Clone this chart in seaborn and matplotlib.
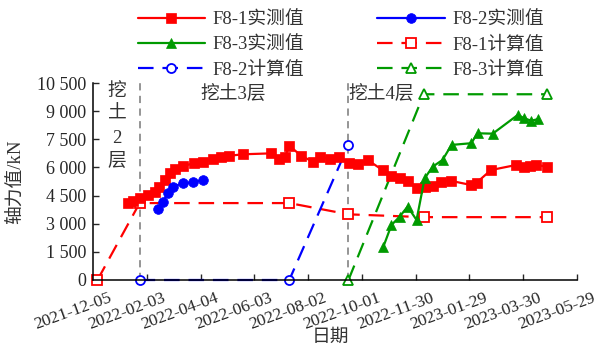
import matplotlib
matplotlib.use("Agg")
import matplotlib.pyplot as plt
import matplotlib.transforms as mtransforms
from matplotlib import font_manager
from matplotlib.ticker import FixedLocator, FuncFormatter
import seaborn as sns
import pandas as pd

# ---------------- data ----------------
f81_meas_dates = ["2022-01-13", "2022-01-19", "2022-01-26", "2022-02-04", "2022-02-12",
                  "2022-02-17", "2022-02-23", "2022-03-01", "2022-03-06", "2022-03-15",
                  "2022-03-28", "2022-04-07", "2022-04-18", "2022-04-27", "2022-05-06",
                  "2022-05-21", "2022-06-22", "2022-07-01", "2022-07-07", "2022-07-12",
                  "2022-07-25", "2022-08-07", "2022-08-15", "2022-08-26", "2022-09-06",
                  "2022-09-17", "2022-09-27", "2022-10-08", "2022-10-24", "2022-11-03",
                  "2022-11-12", "2022-11-21", "2022-12-01", "2022-12-10", "2022-12-19",
                  "2022-12-28", "2023-01-08", "2023-01-31", "2023-02-06", "2023-02-22",
                  "2023-03-22", "2023-03-31", "2023-04-07", "2023-04-13", "2023-04-26"]
f81_meas_vals = [4090, 4230, 4350, 4530, 4710, 4970, 5330, 5690, 5900, 6080,
                 6220, 6310, 6430, 6540, 6620, 6700, 6750, 6430, 6540, 7160,
                 6630, 6310, 6570, 6450, 6540, 6220, 6190, 6380, 5860, 5540,
                 5420, 5290, 4890, 4940, 5010, 5240, 5290, 5060, 5190, 5860,
                 6130, 6040, 6080, 6130, 6040]

f82_meas_dates = ["2022-02-15", "2022-02-21", "2022-02-27", "2022-03-04", "2022-03-15",
                  "2022-03-27", "2022-04-07"]
f82_meas_vals = [3790, 4170, 4650, 4970, 5150, 5210, 5330]

f83_meas_dates = ["2022-10-25", "2022-11-03", "2022-11-12", "2022-11-21", "2022-12-01",
                  "2022-12-10", "2022-12-19", "2022-12-30", "2023-01-09", "2023-01-31",
                  "2023-02-07", "2023-02-24", "2023-03-24", "2023-03-31", "2023-04-08",
                  "2023-04-15"]
f83_meas_vals = [1780, 2930, 3370, 3910, 3200, 5420, 6040, 6400, 7200, 7290,
                 7820, 7800, 8800, 8620, 8490, 8570]

f81_calc_dates = ["2021-12-10", "2022-01-26", "2022-07-12", "2022-09-16", "2022-12-09", "2023-04-26"]
f81_calc_vals = [0, 4100, 4100, 3500, 3350, 3350]

f82_calc_dates = ["2022-01-26", "2022-07-12", "2022-09-16"]
f82_calc_vals = [0, 0, 7200]

f83_calc_dates = ["2022-09-16", "2022-12-09", "2023-04-26"]
f83_calc_vals = [0, 9900, 9900]

stage_dates = ["2022-01-26", "2022-09-16"]

x_tick_labels = ["2021-12-05", "2022-02-03", "2022-04-04", "2022-06-03", "2022-08-02",
                 "2022-10-01", "2022-11-30", "2023-01-29", "2023-03-30", "2023-05-29"]
y_ticks = [0, 1500, 3000, 4500, 6000, 7500, 9000, 10500]

# ---------------- style ----------------
sns.set_style("ticks")
names = {f.name for f in font_manager.fontManager.ttflist}
serif = next((n for n in ["Liberation Serif", "Times New Roman", "DejaVu Serif"] if n in names),
             "serif")
FAM = [serif, "Noto Sans CJK SC"]
plt.rcParams["font.family"] = FAM
plt.rcParams["axes.unicode_minus"] = False

RED = "#ff0000"
BLUE = "#0000ff"
GREEN = "#009a00"
TXT = "#333333"

fig = plt.figure(figsize=(6.03, 3.45), dpi=100)
ax = fig.add_axes([93 / 603, 1 - 280 / 345, (577 - 93) / 603, (280 - 83) / 345])

def dt(lst):
    return pd.to_datetime(lst)

LW = 1.6
DASH = (7, 4)

# stage lines
for d in stage_dates:
    ax.axvline(pd.Timestamp(d), color="#8c8c8c", lw=1.3, ls=(0, (4, 3)), zorder=1)

specs = [
    (f81_meas_dates, f81_meas_vals, RED, "s", 7.5, True, "F8-1实测值"),
    (f82_meas_dates, f82_meas_vals, BLUE, "o", 7, True, "F8-2实测值"),
    (f83_meas_dates, f83_meas_vals, GREEN, "^", 7.5, True, "F8-3实测值"),
    (f81_calc_dates, f81_calc_vals, RED, "s", 6.5, False, "F8-1计算值"),
    (f82_calc_dates, f82_calc_vals, BLUE, "o", 6.5, False, "F8-2计算值"),
    (f83_calc_dates, f83_calc_vals, GREEN, "^", 6.5, False, "F8-3计算值"),
]

handles = {}
for dates, vals, col, mk, ms, filled, lab in specs:
    n_before = len(ax.lines)
    sns.lineplot(x=dt(dates), y=vals, ax=ax, color=col, marker=mk, markersize=ms,
                 linewidth=LW, sort=False, estimator=None, legend=False,
                 markerfacecolor=col if filled else "white",
                 markeredgecolor=col, markeredgewidth=1.3 if not filled else 0.5,
                 zorder=3 if filled else 2)
    ln = ax.lines[n_before]
    if not filled:
        ln.set_linestyle((0, DASH))
    ln.set_clip_on(False)
    handles[lab] = ln

# ---------------- axes ----------------
ax.set_xlim(pd.Timestamp("2021-12-05"), pd.Timestamp("2023-05-29"))
ax.set_ylim(0, 10500)
ax.set_xticks(dt(x_tick_labels))
ax.set_xticklabels(x_tick_labels, rotation=20, ha="right", va="top",
                   rotation_mode="anchor", fontsize=12.5)
ax.yaxis.set_major_locator(FixedLocator(y_ticks))
ax.yaxis.set_major_formatter(FuncFormatter(lambda v, p: f"{int(v):,}".replace(",", " ")))
ax.tick_params(axis="y", direction="in", length=4.5, width=1, labelsize=13, pad=5)
ax.tick_params(axis="x", direction="in", length=4, width=1, pad=7)
offset = mtransforms.ScaledTranslation(11 / 72, 0, fig.dpi_scale_trans)
for lbl in ax.get_xticklabels():
    lbl.set_transform(lbl.get_transform() + offset)
sns.despine(ax=ax)
for sp in ("left", "bottom"):
    ax.spines[sp].set_linewidth(1.1)
    ax.spines[sp].set_color("black")
ax.grid(False)

ax.set_ylabel("轴力值/kN", fontsize=13.5, color=TXT)
ax.set_xlabel("日期", fontsize=13.5, color=TXT)
ax.yaxis.set_label_coords(-0.143, 0.5)
ax.xaxis.set_label_coords(0.49, -0.25)

# annotations
ax.text(pd.Timestamp("2022-01-01"), 10520, "挖\n土\n2\n层", ha="center", va="top",
        fontsize=13.5, linespacing=1.5, color=TXT)
ax.text(pd.Timestamp("2022-05-10"), 9850, "挖土3层", ha="center", va="center",
        fontsize=13.5, color=TXT)
ax.text(pd.Timestamp("2022-10-22"), 9850, "挖土4层", ha="center", va="center",
        fontsize=13.5, color=TXT)

# legend (column-major order)
order = ["F8-1实测值", "F8-3实测值", "F8-2计算值", "F8-2实测值", "F8-1计算值", "F8-3计算值"]
leg = fig.legend([handles[k] for k in order], order, ncol=2, loc="upper center",
                 bbox_to_anchor=(0.565, 1.005), frameon=False, fontsize=13.5,
                 handlelength=3.6, handletextpad=0.4, columnspacing=3.9,
                 labelspacing=0.42, borderpad=0.2, numpoints=1)
for t in leg.get_texts():
    t.set_color(TXT)

fig.savefig("out.png", dpi=100)
